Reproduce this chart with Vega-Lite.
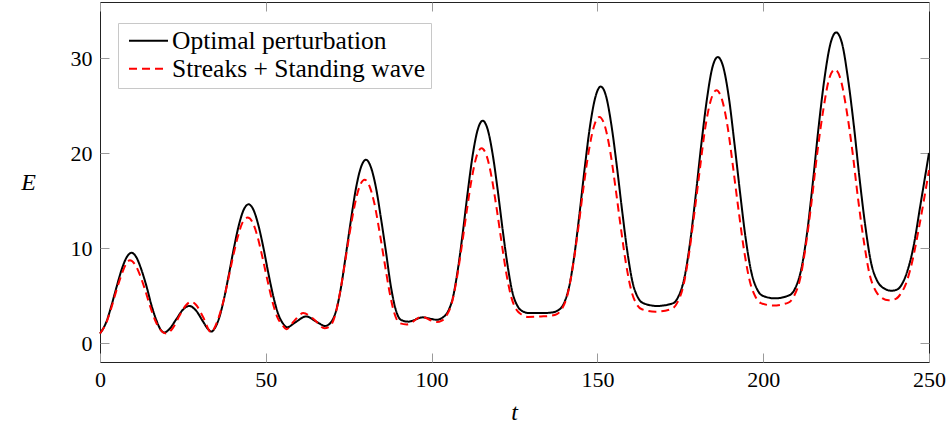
{
"$schema": "https://vega.github.io/schema/vega-lite/v6.json",
"width": 829, "height": 360,
"autosize": {"type": "none"},
"padding": {"left": 100, "top": 2, "right": 21, "bottom": 61},
"background": "white",
"config": {
  "view": {"stroke": "#222222", "strokeWidth": 1},
  "axis": {"grid": false, "domain": false, "tickColor": "#9a9a9a", "tickSize": -9, "tickWidth": 1, "labelFlush": false,
    "labelFont": "Liberation Serif", "labelFontSize": 22, "labelColor": "black",
    "titleFont": "Liberation Serif", "titleFontStyle": "italic", "titleFontWeight": "normal", "titleFontSize": 24, "titleColor": "black"}
},
"data": {"values": [
{"s":"a","t":0,"E":1.0},{"s":"a","t":2,"E":2.3},{"s":"a","t":3.5,"E":4.0},{"s":"a","t":5,"E":5.9},{"s":"a","t":6.5,"E":7.7},{"s":"a","t":8,"E":9.0},{"s":"a","t":9.5,"E":9.5},{"s":"a","t":11,"E":9.0},{"s":"a","t":12.5,"E":7.7},{"s":"a","t":14,"E":6.0},{"s":"a","t":15.5,"E":4.0},{"s":"a","t":17,"E":2.4},{"s":"a","t":18.5,"E":1.3},{"s":"a","t":19.4,"E":1.1},{"s":"a","t":21,"E":1.5},{"s":"a","t":23,"E":2.5},{"s":"a","t":25,"E":3.5},{"s":"a","t":26.9,"E":3.9},{"s":"a","t":29,"E":3.4},{"s":"a","t":31,"E":2.3},{"s":"a","t":32.5,"E":1.5},{"s":"a","t":33.6,"E":1.2},
{"s":"a","t":34.5,"E":1.5},{"s":"a","t":35.8,"E":2.5},{"s":"a","t":37.3,"E":4.5},{"s":"a","t":38.8,"E":7.1},{"s":"a","t":40.3,"E":9.85},{"s":"a","t":41.8,"E":12.3},{"s":"a","t":43.3,"E":14.0},{"s":"a","t":44.8,"E":14.6},{"s":"a","t":46.3,"E":14.0},{"s":"a","t":47.8,"E":12.35},{"s":"a","t":49.3,"E":10.0},{"s":"a","t":50.8,"E":7.3},{"s":"a","t":52.3,"E":4.85},{"s":"a","t":53.8,"E":3.0},{"s":"a","t":55.3,"E":2.0},{"s":"a","t":56.4,"E":1.65},
{"s":"a","t":59,"E":2.2},{"s":"a","t":62.2,"E":2.8},{"s":"a","t":65,"E":2.3},{"s":"a","t":67.9,"E":1.8},{"s":"a","t":69.7,"E":2.2},{"s":"a","t":71.2,"E":3.4},{"s":"a","t":72.7,"E":5.9},{"s":"a","t":74.2,"E":9.4},{"s":"a","t":75.7,"E":13.0},{"s":"a","t":77.2,"E":16.3},{"s":"a","t":78.7,"E":18.5},{"s":"a","t":80.2,"E":19.3},{"s":"a","t":81.7,"E":18.5},{"s":"a","t":83.2,"E":16.4},{"s":"a","t":84.7,"E":13.2},{"s":"a","t":86.2,"E":9.7},{"s":"a","t":87.7,"E":6.0},{"s":"a","t":89.2,"E":3.5},{"s":"a","t":90.7,"E":2.45},{"s":"a","t":93,"E":2.25},{"s":"a","t":97.3,"E":2.7},{"s":"a","t":101.5,"E":2.45},
{"s":"a","t":103.4,"E":2.7},{"s":"a","t":104.9,"E":3.3},{"s":"a","t":106.4,"E":4.75},{"s":"a","t":107.9,"E":7.7},{"s":"a","t":109.4,"E":11.6},{"s":"a","t":110.9,"E":15.9},{"s":"a","t":112.4,"E":19.8},{"s":"a","t":113.9,"E":22.45},{"s":"a","t":115.4,"E":23.4},{"s":"a","t":116.9,"E":22.5},{"s":"a","t":118.4,"E":19.9},{"s":"a","t":119.9,"E":16.2},{"s":"a","t":121.4,"E":12.0},{"s":"a","t":122.9,"E":8.2},{"s":"a","t":124.4,"E":5.3},{"s":"a","t":125.9,"E":3.9},{"s":"a","t":127.4,"E":3.35},{"s":"a","t":129.5,"E":3.15},{"s":"a","t":133,"E":3.15},{"s":"a","t":136,"E":3.2},
{"s":"a","t":138.2,"E":3.45},{"s":"a","t":139.8,"E":4.1},{"s":"a","t":141.4,"E":5.8},{"s":"a","t":143.0,"E":9.1},{"s":"a","t":144.6,"E":13.6},{"s":"a","t":146.2,"E":18.5},{"s":"a","t":147.8,"E":22.9},{"s":"a","t":149.4,"E":25.9},{"s":"a","t":151,"E":27.0},{"s":"a","t":152.6,"E":26.0},{"s":"a","t":154.2,"E":23.0},{"s":"a","t":155.8,"E":18.8},{"s":"a","t":157.4,"E":14.1},{"s":"a","t":159.0,"E":9.7},{"s":"a","t":160.6,"E":6.4},{"s":"a","t":162.2,"E":4.8},{"s":"a","t":163.8,"E":4.2},{"s":"a","t":168,"E":3.9},
{"s":"a","t":172.9,"E":4.2},{"s":"a","t":174.5,"E":4.95},{"s":"a","t":176.2,"E":6.8},{"s":"a","t":177.9,"E":10.45},{"s":"a","t":179.6,"E":15.4},{"s":"a","t":181.3,"E":20.8},{"s":"a","t":183.0,"E":25.6},{"s":"a","t":184.6,"E":28.9},{"s":"a","t":186.3,"E":30.1},{"s":"a","t":188.0,"E":29.0},{"s":"a","t":189.7,"E":25.7},{"s":"a","t":191.3,"E":21.1},{"s":"a","t":193.0,"E":15.9},{"s":"a","t":194.7,"E":11.05},{"s":"a","t":196.4,"E":7.5},{"s":"a","t":198.1,"E":5.7},{"s":"a","t":199.7,"E":5.0},{"s":"a","t":203.5,"E":4.7},
{"s":"a","t":208.0,"E":5.05},{"s":"a","t":209.7,"E":5.8},{"s":"a","t":211.5,"E":7.8},{"s":"a","t":213.2,"E":11.5},{"s":"a","t":215.0,"E":17.0},{"s":"a","t":216.7,"E":22.7},{"s":"a","t":218.5,"E":27.9},{"s":"a","t":220.2,"E":31.4},{"s":"a","t":222,"E":32.7},{"s":"a","t":223.8,"E":31.5},{"s":"a","t":225.5,"E":28.0},{"s":"a","t":227.3,"E":23.0},{"s":"a","t":229.0,"E":17.5},{"s":"a","t":230.8,"E":12.3},{"s":"a","t":232.5,"E":8.5},{"s":"a","t":234.3,"E":6.6},{"s":"a","t":236.0,"E":5.85},{"s":"a","t":238.7,"E":5.5},{"s":"a","t":240.5,"E":5.65},{"s":"a","t":242.0,"E":6.3},{"s":"a","t":243.5,"E":7.6},{"s":"a","t":245.3,"E":10.1},{"s":"a","t":247.3,"E":14.3},{"s":"a","t":250,"E":20.0},
{"s":"b","t":0,"E":1.0},{"s":"b","t":2,"E":2.2},{"s":"b","t":3.5,"E":3.8},{"s":"b","t":5,"E":5.6},{"s":"b","t":6.5,"E":7.2},{"s":"b","t":8,"E":8.4},{"s":"b","t":9,"E":8.7},{"s":"b","t":10.5,"E":8.3},{"s":"b","t":12,"E":7.2},{"s":"b","t":13.5,"E":5.7},{"s":"b","t":15,"E":4.0},{"s":"b","t":16.5,"E":2.5},{"s":"b","t":18,"E":1.5},{"s":"b","t":20,"E":1.0},{"s":"b","t":22,"E":1.6},{"s":"b","t":24,"E":2.9},{"s":"b","t":26,"E":4.0},{"s":"b","t":27.5,"E":4.35},{"s":"b","t":29,"E":4.0},{"s":"b","t":31,"E":2.8},{"s":"b","t":33.6,"E":1.1},
{"s":"b","t":34.4,"E":1.5},{"s":"b","t":35.5,"E":2.4},{"s":"b","t":37.0,"E":4.1},{"s":"b","t":38.5,"E":6.4},{"s":"b","t":40.0,"E":8.9},{"s":"b","t":41.5,"E":11.1},{"s":"b","t":43.0,"E":12.7},{"s":"b","t":44.5,"E":13.2},{"s":"b","t":46.0,"E":12.7},{"s":"b","t":47.5,"E":11.2},{"s":"b","t":49.0,"E":9.0},{"s":"b","t":50.5,"E":6.6},{"s":"b","t":52.0,"E":4.35},{"s":"b","t":53.5,"E":2.7},{"s":"b","t":55.0,"E":1.9},{"s":"b","t":56.2,"E":1.45},
{"s":"b","t":58.5,"E":2.3},{"s":"b","t":61.3,"E":3.15},{"s":"b","t":64.5,"E":2.5},{"s":"b","t":67.7,"E":1.55},{"s":"b","t":69.3,"E":1.75},{"s":"b","t":70.8,"E":2.8},{"s":"b","t":72.3,"E":5.15},{"s":"b","t":73.8,"E":8.3},{"s":"b","t":75.3,"E":11.6},{"s":"b","t":76.8,"E":14.5},{"s":"b","t":78.3,"E":16.5},{"s":"b","t":79.8,"E":17.2},{"s":"b","t":81.3,"E":16.5},{"s":"b","t":82.8,"E":14.6},{"s":"b","t":84.3,"E":11.7},{"s":"b","t":85.8,"E":8.5},{"s":"b","t":87.3,"E":5.4},{"s":"b","t":88.8,"E":3.1},{"s":"b","t":90.3,"E":2.1},{"s":"b","t":92.5,"E":1.95},{"s":"b","t":97,"E":2.75},{"s":"b","t":101.5,"E":2.2},
{"s":"b","t":103.1,"E":2.35},{"s":"b","t":104.6,"E":2.95},{"s":"b","t":106.1,"E":4.2},{"s":"b","t":107.6,"E":6.8},{"s":"b","t":109.1,"E":10.2},{"s":"b","t":110.6,"E":13.9},{"s":"b","t":112.1,"E":17.3},{"s":"b","t":113.6,"E":19.7},{"s":"b","t":115.1,"E":20.5},{"s":"b","t":116.6,"E":19.7},{"s":"b","t":118.1,"E":17.45},{"s":"b","t":119.6,"E":14.2},{"s":"b","t":121.1,"E":10.6},{"s":"b","t":122.6,"E":7.2},{"s":"b","t":124.1,"E":4.75},{"s":"b","t":125.6,"E":3.5},{"s":"b","t":127.1,"E":3.0},{"s":"b","t":129,"E":2.75},{"s":"b","t":133,"E":2.8},{"s":"b","t":135.5,"E":2.85},
{"s":"b","t":137.8,"E":3.05},{"s":"b","t":139.4,"E":3.65},{"s":"b","t":141.0,"E":5.1},{"s":"b","t":142.6,"E":8.05},{"s":"b","t":144.2,"E":12.0},{"s":"b","t":145.8,"E":16.35},{"s":"b","t":147.4,"E":20.2},{"s":"b","t":149.0,"E":22.85},{"s":"b","t":150.6,"E":23.8},{"s":"b","t":152.2,"E":22.9},{"s":"b","t":153.8,"E":20.3},{"s":"b","t":155.4,"E":16.5},{"s":"b","t":157.0,"E":12.3},{"s":"b","t":158.6,"E":8.4},{"s":"b","t":160.2,"E":5.55},{"s":"b","t":161.8,"E":4.1},{"s":"b","t":163.4,"E":3.55},{"s":"b","t":167.5,"E":3.3},
{"s":"b","t":172.5,"E":3.6},{"s":"b","t":174.1,"E":4.25},{"s":"b","t":175.8,"E":5.85},{"s":"b","t":177.5,"E":9.1},{"s":"b","t":179.2,"E":13.55},{"s":"b","t":180.9,"E":18.3},{"s":"b","t":182.5,"E":22.6},{"s":"b","t":184.2,"E":25.55},{"s":"b","t":185.9,"E":26.6},{"s":"b","t":187.6,"E":25.6},{"s":"b","t":189.3,"E":22.7},{"s":"b","t":190.9,"E":18.55},{"s":"b","t":192.6,"E":13.9},{"s":"b","t":194.3,"E":9.6},{"s":"b","t":196.0,"E":6.45},{"s":"b","t":197.7,"E":4.85},{"s":"b","t":199.3,"E":4.2},{"s":"b","t":203,"E":3.95},
{"s":"b","t":207.6,"E":4.25},{"s":"b","t":209.3,"E":4.95},{"s":"b","t":211.1,"E":6.7},{"s":"b","t":212.8,"E":10.15},{"s":"b","t":214.6,"E":14.9},{"s":"b","t":216.3,"E":20.0},{"s":"b","t":218.1,"E":24.5},{"s":"b","t":219.8,"E":27.7},{"s":"b","t":221.6,"E":28.8},{"s":"b","t":223.4,"E":27.7},{"s":"b","t":225.1,"E":24.6},{"s":"b","t":226.9,"E":20.2},{"s":"b","t":228.6,"E":15.2},{"s":"b","t":230.4,"E":10.6},{"s":"b","t":232.1,"E":7.2},{"s":"b","t":233.9,"E":5.5},{"s":"b","t":235.6,"E":4.8},{"s":"b","t":237.8,"E":4.5},{"s":"b","t":240.0,"E":4.65},{"s":"b","t":241.5,"E":5.2},{"s":"b","t":243.0,"E":6.2},{"s":"b","t":244.9,"E":8.5},{"s":"b","t":246.9,"E":12.0},{"s":"b","t":250,"E":18.2}
]},
"layer": [
  {
    "mark": {"type": "line", "strokeWidth": 2, "interpolate": "monotone"},
    "encoding": {
      "x": {"field": "t", "type": "quantitative", "scale": {"domain": [0, 250], "nice": false, "zero": false},
        "axis": {"values": [0, 50, 100, 150, 200, 250], "title": "t", "labelPadding": 16, "titleX": 414, "titleY": 50, "titleBaseline": "middle", "titleAlign": "center"}},
      "y": {"field": "E", "type": "quantitative", "scale": {"domain": [-2, 35.9], "nice": false, "zero": false},
        "axis": {"values": [0, 10, 20, 30], "title": "E", "labelPadding": 17, "titleAngle": 0, "titleX": -72, "titleY": 180, "titleAlign": "center", "titleBaseline": "middle"}},
      "color": {"field": "s", "type": "nominal", "scale": {"domain": ["a", "b"], "range": ["#000000", "#ff0000"]},
        "legend": {"orient": "none", "legendX": 18, "legendY": 21, "title": null, "padding": 5, "strokeColor": "#c8c8c8", "fillColor": "white",
          "labelFont": "Liberation Serif", "labelFontSize": 25.5, "labelColor": "black", "symbolType": "M-2,0H2", "symbolSize": 380, "symbolStrokeWidth": 2,
          "symbolOffset": 12.75, "labelOffset": 10.75, "rowPadding": 1, "labelLimit": 500,
          "labelExpr": "datum.label == 'a' ? 'Optimal perturbation' : 'Streaks + Standing wave'"}},
      "strokeDash": {"field": "s", "type": "nominal", "scale": {"domain": ["a", "b"], "range": [[1, 0], [8, 5]]},
        "legend": {"orient": "none", "legendX": 18, "legendY": 21, "title": null, "padding": 5, "strokeColor": "#c8c8c8", "fillColor": "white",
          "labelFont": "Liberation Serif", "labelFontSize": 25.5, "labelColor": "black", "symbolType": "M-2,0H2", "symbolSize": 380, "symbolStrokeWidth": 2,
          "symbolOffset": 12.75, "labelOffset": 10.75, "rowPadding": 1, "labelLimit": 500,
          "labelExpr": "datum.label == 'a' ? 'Optimal perturbation' : 'Streaks + Standing wave'"}}
    }
  },
  {
    "mark": {"type": "point", "opacity": 0},
    "encoding": {
      "x": {"field": "t", "type": "quantitative", "axis": {"orient": "top", "values": [0, 50, 100, 150, 200, 250], "labels": false, "title": null}},
      "y": {"field": "E", "type": "quantitative", "axis": {"orient": "right", "values": [0, 10, 20, 30], "labels": false, "title": null}}
    }
  }
],
"resolve": {"axis": {"x": "independent", "y": "independent"}}
}
